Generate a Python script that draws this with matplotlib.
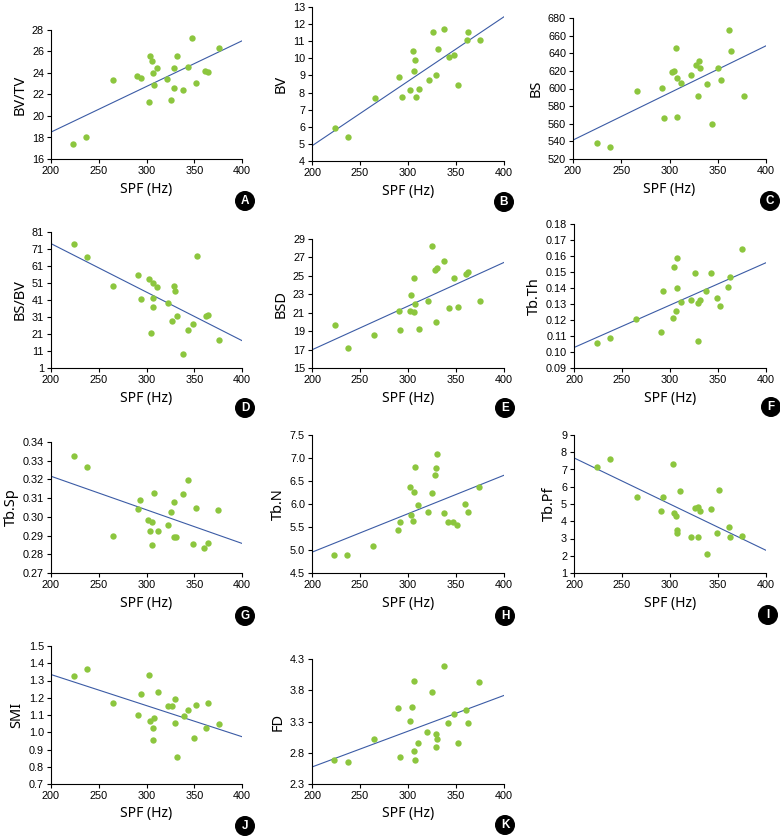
import numpy as np
import matplotlib.pyplot as plt
from matplotlib.ticker import FormatStrFormatter

# SPF (Hz) and morphometric values, read per panel
spf_a = [223, 237, 265, 290, 294, 304, 306, 307, 308, 303, 311, 321, 326, 329, 329, 332, 338, 343, 348, 352, 361, 364, 376]
bv_tv = [17.42, 18.07, 23.34, 23.7, 23.55, 25.6, 25.1, 23.96, 22.84, 21.26, 24.48, 23.4, 21.48, 24.5, 22.56, 25.6, 22.38, 24.58, 27.27, 23.06, 24.2, 24.05, 26.37]

spf_b = [224, 238, 266, 291, 294, 302, 305, 307, 306, 308, 311, 322, 326, 329, 331, 338, 343, 348, 352, 361, 363, 375]
bv = [5.9, 5.42, 7.7, 8.9, 7.75, 8.15, 10.4, 9.93, 9.25, 7.72, 8.2, 8.73, 11.55, 9.05, 10.55, 11.73, 10.1, 10.2, 8.42, 11.07, 11.52, 11.07]

spf_c = [225, 238, 266, 292, 294, 303, 305, 307, 308, 308, 312, 322, 327, 330, 331, 332, 339, 344, 350, 353, 362, 364, 377]
bs = [537.8, 533.2, 597.5, 600.5, 566, 618.7, 619.9, 646, 611.9, 568, 606.6, 615.7, 627, 591.5, 630.8, 622.9, 605.5, 560.1, 622.9, 610, 666, 642.6, 591.1]

spf_d = [224, 238, 265, 291, 294, 303, 307, 311, 307, 307, 305, 322, 329, 330, 332, 327, 338, 343, 349, 353, 362, 364, 376]
bs_bv = [74.1, 66.2, 49.1, 56.0, 41.4, 53.6, 50.9, 48.5, 42.0, 36.7, 21.5, 39.0, 49.3, 46.1, 31.6, 28.4, 9.3, 23.5, 26.8, 66.6, 31.8, 32.0, 17.6]

spf_e = [224, 237, 265, 291, 292, 303, 302, 306, 306, 307, 311, 321, 325, 328, 330, 329, 338, 343, 348, 352, 360, 363, 375]
bsd = [19.70, 17.17, 18.55, 21.23, 19.16, 22.97, 21.15, 21.08, 24.77, 21.95, 19.23, 22.27, 28.24, 25.60, 25.85, 19.99, 26.64, 21.51, 24.80, 21.66, 25.20, 25.38, 22.27]

spf_f = [224, 237, 265, 291, 293, 303, 304, 306, 307, 307, 311, 322, 326, 329, 331, 329, 338, 343, 349, 352, 360, 363, 375]
tb_th = [0.1054, 0.1090, 0.1209, 0.1127, 0.1380, 0.1213, 0.1532, 0.1255, 0.1589, 0.1399, 0.1311, 0.1322, 0.1495, 0.1309, 0.1328, 0.1071, 0.1384, 0.1493, 0.1340, 0.1290, 0.1407, 0.1466, 0.1643]

spf_g = [224, 238, 265, 291, 293, 302, 304, 306, 308, 306, 312, 322, 326, 329, 329, 331, 338, 343, 349, 352, 360, 364, 375]
tb_sp = [0.3327, 0.3265, 0.2900, 0.3044, 0.3092, 0.2981, 0.2924, 0.2970, 0.3128, 0.2847, 0.2926, 0.2958, 0.3025, 0.3081, 0.2893, 0.2893, 0.3121, 0.3199, 0.2854, 0.3050, 0.2834, 0.2859, 0.3035]

spf_h = [223, 236, 264, 290, 292, 302, 303, 305, 306, 307, 310, 321, 325, 328, 329, 330, 337, 342, 347, 351, 359, 363, 374]
tb_n = [4.898, 4.883, 5.093, 5.426, 5.599, 6.373, 5.751, 5.636, 6.265, 6.800, 5.968, 5.830, 6.236, 6.627, 6.772, 7.088, 5.801, 5.613, 5.606, 5.548, 6.004, 5.830, 6.373]

spf_i = [224, 238, 266, 291, 293, 303, 304, 306, 307, 307, 310, 322, 326, 329, 329, 331, 339, 343, 349, 351, 361, 363, 375]
tb_pf = [7.164, 7.628, 5.386, 4.575, 5.425, 7.300, 4.459, 4.304, 3.493, 3.338, 5.773, 3.068, 4.787, 4.807, 3.106, 4.613, 2.121, 4.710, 3.300, 5.792, 3.647, 3.106, 3.126]

spf_j = [224, 238, 265, 291, 294, 303, 304, 308, 307, 307, 312, 323, 327, 330, 330, 332, 339, 343, 350, 352, 362, 364, 376]
smi = [1.325, 1.369, 1.169, 1.100, 1.219, 1.329, 1.067, 1.085, 1.027, 0.954, 1.231, 1.150, 1.152, 1.192, 1.052, 0.854, 1.092, 1.127, 0.969, 1.158, 1.023, 1.171, 1.050]

spf_k = [223, 237, 265, 290, 292, 302, 304, 306, 306, 307, 310, 320, 325, 329, 330, 329, 337, 342, 348, 352, 360, 363, 374]
fd = [2.687, 2.655, 3.016, 3.520, 2.735, 3.313, 3.530, 3.950, 2.825, 2.687, 2.952, 3.133, 3.775, 3.106, 3.027, 2.889, 4.194, 3.281, 3.419, 2.958, 3.478, 3.271, 3.939]

panels = [
    # letter, ylabel, x, y, ymin, ymax, ystep, fmt, axes box in px (left, top, right, bottom), letter pos
    ("A", "BV/TV", spf_a, bv_tv, 16, 28, 2, "%d", (51, 30, 242, 159), (245, 201)),
    ("B", "BV", spf_b, bv, 4, 13, 1, "%d", (312, 7, 504, 161), (504, 202)),
    ("C", "BS", spf_c, bs, 520, 680, 20, "%d", (573, 18, 766, 159), (770, 201)),
    ("D", "BS/BV", spf_d, bs_bv, 1, 81, 10, "%d", (51, 232, 242, 368), (245, 408)),
    ("E", "BSD", spf_e, bsd, 15, 29, 2, "%d", (312, 239, 504, 368), (505, 408)),
    ("F", "Tb.Th", spf_f, tb_th, 0.09, 0.18, 0.01, "%.2f", (574, 224, 766, 368), (771, 407)),
    ("G", "Tb.Sp", spf_g, tb_sp, 0.27, 0.34, 0.01, "%.2f", (51, 442, 242, 573), (245, 616)),
    ("H", "Tb.N", spf_h, tb_n, 4.5, 7.5, 0.5, "%.1f", (312, 435, 504, 573), (505, 616)),
    ("I", "Tb.Pf", spf_i, tb_pf, 1, 9, 1, "%d", (574, 435, 766, 573), (768, 615)),
    ("J", "SMI", spf_j, smi, 0.7, 1.5, 0.1, "%.1f", (51, 646, 242, 784), (245, 826)),
    ("K", "FD", spf_k, fd, 2.3, 4.3, 0.5, "%.1f", (312, 659, 504, 784), (505, 825)),
]

W, H = 780, 836
fig = plt.figure(figsize=(W / 100, H / 100), dpi=100)
plt.rcParams['font.family'] = ['Liberation Sans', 'DejaVu Sans']

green = '#8cc63e'
blue = '#3b5ba5'

for letter, ylab, xs, ys, ymin, ymax, ystep, fmt, box, lpos in panels:
    l, t, r, b = box
    ax = fig.add_axes([l / W, 1 - b / H, (r - l) / W, (b - t) / H])
    xs = np.array(xs, dtype=float)
    ys = np.array(ys, dtype=float)
    ax.scatter(xs, ys, s=21, color=green, zorder=3, linewidths=0)
    k, c = np.polyfit(xs, ys, 1)
    xl = np.array([200, 400])
    ax.plot(xl, k * xl + c, color=blue, lw=0.8, zorder=2)
    ax.set_xlim(200, 400)
    ax.set_ylim(ymin, ymax)
    ax.set_xticks(np.arange(200, 401, 50))
    ax.set_yticks(np.arange(ymin, ymax + ystep / 2, ystep))
    ax.yaxis.set_major_formatter(FormatStrFormatter(fmt))
    for s in ['top', 'right']:
        ax.spines[s].set_visible(False)
    for s in ['left', 'bottom']:
        ax.spines[s].set_linewidth(0.8)
    ax.tick_params(direction='out', length=3, width=0.8, labelsize=7.8, pad=2)
    ax.set_xlabel("SPF (Hz)", fontsize=10, family=['Noto Sans', 'DejaVu Sans'], labelpad=4)
    ax.set_ylabel(ylab, fontsize=10.5, family=['Noto Sans', 'DejaVu Sans'], labelpad=3)
    fig.text(lpos[0] / W, 1 - lpos[1] / H, letter, ha='center', va='center',
             color='white', fontsize=8.5, fontweight='bold',
             bbox=dict(boxstyle='circle,pad=0.28', fc='black', ec='black'))

fig.savefig('out.png', dpi=100)
